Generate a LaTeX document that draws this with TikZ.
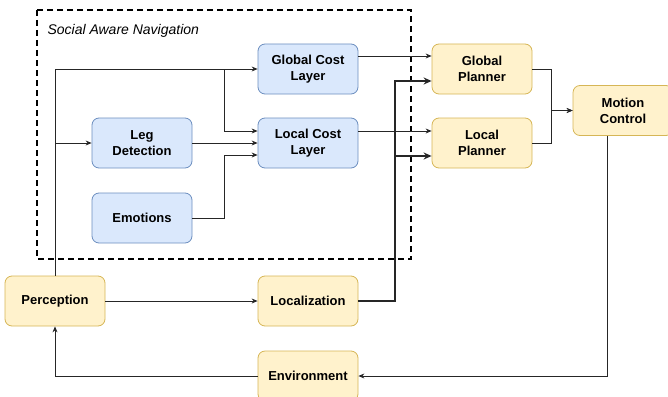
\documentclass[tikz,border=0pt]{standalone}
\usepackage{fontspec}
\setmainfont{Liberation Sans}
\usepackage{tikz}
\usetikzlibrary{arrows.meta}
\definecolor{costfill}{HTML}{DAE8FC}
\definecolor{costline}{HTML}{6C8EBF}
\definecolor{planfill}{HTML}{FFF2CC}
\definecolor{planline}{HTML}{D6B656}

\begin{document}
\begin{tikzpicture}[x=1pt,y=-1pt,
  box/.style={rounded corners=7pt, minimum width=100pt, minimum height=50pt,
    align=center, font=\fontsize{13}{16}\selectfont\bfseries, line width=.8pt},
  costbox/.style={box, fill=costfill, draw=costline},
  planbox/.style={box, fill=planfill, draw=planline},
  arr/.style={draw=black!85, line width=.8pt, -{Stealth[length=6pt,width=5pt]}},
  thickarr/.style={draw=black!85, line width=1.8pt, -{Stealth[length=8pt,width=7pt]}}]
\useasboundingbox (0,0) rectangle (668,396);

\draw[line width=2pt, dash pattern=on 6pt off 4pt] (37,10) rectangle (411,259);
\node[anchor=west, font=\fontsize{14}{16}\selectfont\itshape] (title) at (44,31) {Social Aware Navigation};

\node[costbox] (gcost) at (308,69) {Global Cost\\Layer};
\node[costbox] (lcost) at (308,143) {Local Cost\\Layer};
\node[costbox] (leg) at (142,143) {Leg\\Detection};
\node[costbox] (emo) at (142,218) {Emotions};

\node[planbox] (gplan) at (482,69) {Global\\Planner};
\node[planbox] (lplan) at (482,143) {Local\\Planner};
\node[planbox] (motion) at (623,110.5) {Motion\\Control};
\node[planbox] (percep) at (55,301) {Perception};
\node[planbox] (loc) at (308,301) {Localization};
\node[planbox] (env) at (308,376) {Environment};

\coordinate (tap) at ([xshift=-33pt]gcost.west);

% social layer
\draw[arr] (percep.north) |- (gcost.west);
\draw[arr] (percep.north) |- (leg.west);
\draw[arr] (tap) |- ([yshift=12pt]lcost.west);
\draw[arr] (leg.east) -- (lcost.west);
\draw[arr] (emo.east) -| ([xshift=-33pt,yshift=-12pt]lcost.west) -- ([yshift=-12pt]lcost.west);

% planners
\draw[arr] ([yshift=13pt]gcost.east) -- ([yshift=13pt]gplan.west);
\draw[arr] ([yshift=12pt]lcost.east) -- ([yshift=12pt]lplan.west);
\draw[thickarr] (loc.east) -| ([xshift=-37pt,yshift=-12pt]gplan.west) -- ([yshift=-12pt]gplan.west);
\draw[thickarr] (loc.east) -| ([xshift=-37pt,yshift=-13pt]lplan.west) -- ([yshift=-13pt]lplan.west);
\draw[arr] (gplan.east) -| ([xshift=-21pt]motion.west) -- (motion.west);
\draw[arr] (lplan.east) -| ([xshift=-21pt]motion.west) -- (motion.west);

% loop
\draw[arr] ([xshift=-16pt]motion.south) |- (env.east);
\draw[arr] (env.west) -| (percep.south);
\draw[arr] (percep.east) -- (loc.west);
\end{tikzpicture}
\end{document}
